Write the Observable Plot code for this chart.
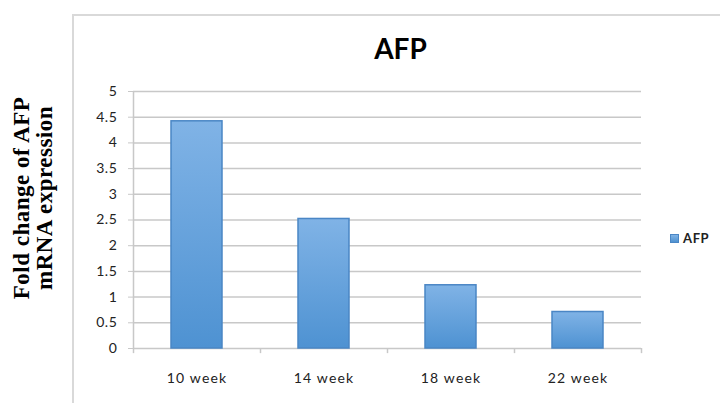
<!DOCTYPE html>
<html>
<head>
<meta charset="utf-8">
<script src="https://cdn.jsdelivr.net/npm/d3@7"></script>
<script src="https://cdn.jsdelivr.net/npm/@observablehq/plot@0.6"></script>
<style>
  html, body { margin: 0; padding: 0; background: #fff; }
  #wrap { position: relative; width: 720px; height: 403px; overflow: hidden; }
  #frame { position: absolute; left: 72px; top: 14px; width: 700px; height: 420px;
           border-left: 2px solid #d9d9d9; border-top: 2px solid #d9d9d9; }
  #title { position: absolute; left: 300px; width: 201px; top: 31px; text-align: center;
           font: bold 28px Lato, "Open Sans", sans-serif; color: #000; }
  .ylab { position: absolute; font: bold 23px "Liberation Serif", "Times New Roman", serif;
          letter-spacing: 0.5px; color: #000; white-space: nowrap; transform-origin: center center; }
  #legend { position: absolute; left: 670px; top: 230px; font: bold 13px Lato, "Open Sans", sans-serif;
            letter-spacing: 0.6px; color: #222; white-space: nowrap; }
  #legend span.sw { display: inline-block; width: 9px; height: 9px; vertical-align: 0px; margin-right: 4px;
                    background: linear-gradient(#7fb2e5, #4f92d0); border: 1px solid #4a86c5; box-sizing: border-box; }
  #chart { position: absolute; left: 0; top: 0; }
</style>
</head>
<body>
<div id="wrap">
  <div id="frame"></div>
  <div id="chart"></div>
  <div id="title">AFP</div>
  <div class="ylab" id="yl1">Fold change of AFP</div>
  <div class="ylab" id="yl2">mRNA expression</div>
  <div id="legend"><span class="sw"></span>AFP</div>
</div>
<script>
// Weeks after treatment and the AFP mRNA fold change measured at each
const weeks = ["10 week", "14 week", "18 week", "22 week"];
const foldChange = [4.42, 2.52, 1.23, 0.71];
const yTicks = [0, 0.5, 1, 1.5, 2, 2.5, 3, 3.5, 4, 4.5, 5];

const data = weeks.map((w, i) => ({week: w, value: foldChange[i]}));

const W = 720, H = 403;
const mL = 133, mR = 79, mT = 91, mB = 55;
const step = (W - mL - mR) / weeks.length;

const plot = Plot.plot({
  width: W,
  height: H,
  marginLeft: mL,
  marginRight: mR,
  marginTop: mT,
  marginBottom: mB,
  style: {fontFamily: "Lato, 'Open Sans', sans-serif", fontSize: "14px", color: "#222", background: "transparent"},
  x: {domain: weeks, paddingInner: 0.6, paddingOuter: 0.3, label: null},
  y: {domain: [0, 5], label: null},
  marks: [
    Plot.ruleY(yTicks, {stroke: "#c8c8c8", strokeWidth: 1.5}),
    Plot.axisY({ticks: yTicks, tickFormat: d => String(d), tickSize: 5, tickPadding: 11,
                stroke: "#c8c8c8", fontSize: 14, label: null}),
    Plot.axisX({tickSize: 0, tickPadding: 25, fontSize: 14, label: null}),
    // vertical axis line
    Plot.ruleX([weeks[0]], {dx: -step / 2, y1: 0, y2: 5, stroke: "#c8c8c8", strokeWidth: 1.5}),
    // category boundary ticks under the baseline
    Plot.ruleX(weeks, {x: d => d, dx: -step / 2, y1: 0, y2: -0.1, stroke: "#c8c8c8", strokeWidth: 1.5}),
    Plot.ruleX([weeks[weeks.length - 1]], {dx: step / 2, y1: 0, y2: -0.1, stroke: "#c8c8c8", strokeWidth: 1.5}),
    Plot.barY(data, {x: "week", y: "value", fill: "url(#barGrad)", stroke: "#4a86c5", strokeWidth: 1.5})
  ]
});

const svg = d3.select(plot);
// slightly wider tick text
svg.selectAll("g[aria-label='x-axis tick label'] text").style("letter-spacing", "1.2px");
svg.selectAll("g[aria-label='y-axis tick label'] text").style("letter-spacing", "0.6px");

// gradient fill used by the bars
const grad = svg.insert("defs", ":first-child").append("linearGradient")
  .attr("id", "barGrad").attr("x1", 0).attr("y1", 0).attr("x2", 0).attr("y2", 1);
grad.append("stop").attr("offset", "0%").attr("stop-color", "#80b3e6");
grad.append("stop").attr("offset", "100%").attr("stop-color", "#4e92d2");

document.getElementById("chart").appendChild(plot);

// rotated two-line axis title
function placeLabel(id, cx, cy) {
  const el = document.getElementById(id);
  const w = el.offsetWidth, h = el.offsetHeight;
  el.style.left = (cx - w / 2) + "px";
  el.style.top = (cy - h / 2) + "px";
  el.style.transform = "rotate(-90deg)";
}
placeLabel("yl1", 22, 198);
placeLabel("yl2", 45, 198);
</script>
</body>
</html>
